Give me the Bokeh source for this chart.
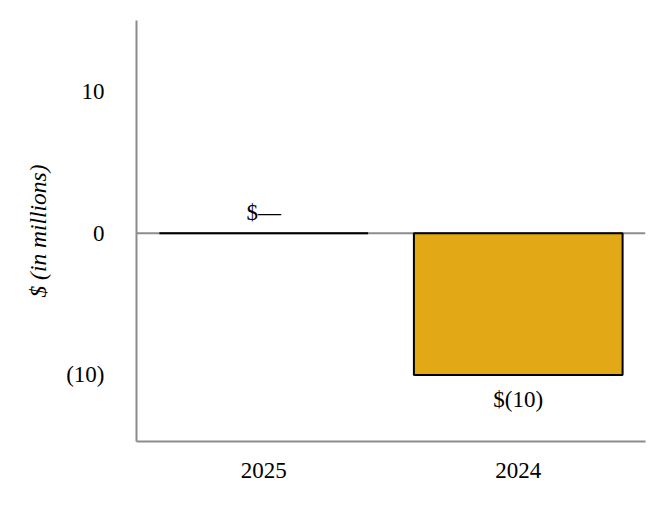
from bokeh.plotting import figure
from bokeh.models import ColumnDataSource, FixedTicker, Span, Range1d, FactorRange
from bokeh.core.properties import value
from bokeh.embed import file_html
from bokeh.resources import INLINE

years = ["2025", "2024"]
amounts = [0, -10]
bar_labels = ["$\u2014", "$(10)"]
y_ticks = [-10, 0, 10]
y_tick_labels = {-10: "(10)", 0: "0", 10: "10"}

FONT = "Liberation Serif"
GRAY = "#8c8c8c"

p = figure(width=658, height=498, x_range=FactorRange(*years, range_padding=0),
           y_range=Range1d(-14.7, 15.0), output_backend="svg", toolbar_location=None,
           min_border_left=136, min_border_right=13, min_border_top=20, min_border_bottom=57)

src = ColumnDataSource(dict(
    x=years, top=amounts, label=bar_labels,
    off=[-21 if a >= 0 else 25 for a in amounts],
))

p.add_layout(Span(location=0, dimension="width", line_color=GRAY, line_width=2,
                  level="underlay"), "center")

p.vbar(x="x", top="top", bottom=0, width=0.82, source=src,
       fill_color="#E3A815", line_color="black", line_width=2)

p.text(x="x", y="top", text="label", y_offset="off", source=src,
       text_font=value(FONT), text_font_size="23px", text_color="black",
       text_align="center", text_baseline="middle")

p.grid.visible = False
p.outline_line_color = None
p.background_fill_color = "white"
p.border_fill_color = "white"

p.yaxis.ticker = FixedTicker(ticks=y_ticks)
p.yaxis.major_label_overrides = y_tick_labels
p.yaxis.axis_label = "$ (in millions)"
p.yaxis.axis_label_text_font = FONT
p.yaxis.axis_label_text_font_style = "italic"
p.yaxis.axis_label_text_font_size = "23.5px"
p.yaxis.axis_label_text_color = "black"
p.yaxis.axis_label_standoff = 12
p.yaxis.major_label_standoff = 32

for ax in (p.xaxis, p.yaxis):
    ax.axis_line_color = GRAY
    ax.axis_line_width = 2
    ax.major_tick_line_color = None
    ax.minor_tick_line_color = None
    ax.major_tick_out = 0
    ax.major_tick_in = 0
    ax.major_label_text_font = FONT
    ax.major_label_text_font_size = "23px"
    ax.major_label_text_color = "black"

p.xaxis.major_label_standoff = 21

open("out.html", "w").write(file_html(p, INLINE))
